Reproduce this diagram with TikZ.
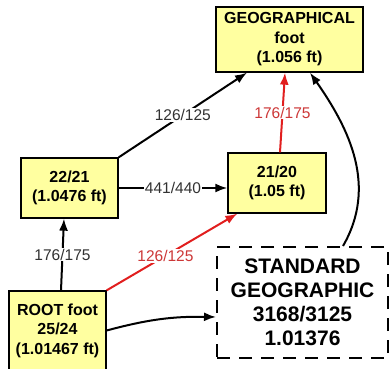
\documentclass[tikz,border=0pt]{standalone}
\usepackage{fontspec}
\setmainfont{Liberation Sans}
\usetikzlibrary{arrows.meta, calc}
\definecolor{boxyellow}{RGB}{255,255,160}
\definecolor{arrowred}{RGB}{225,30,30}
\definecolor{labelred}{RGB}{205,55,55}
\definecolor{labelgray}{RGB}{50,50,50}

\begin{document}
\begin{tikzpicture}[x=1pt, y=1pt,
    unitbox/.style={draw, line width=1.3pt, fill=boxyellow, align=center, inner sep=0pt,
                    font=\fontsize{16}{19.5}\selectfont\bfseries},
    ratio/.style={line width=2pt, -{Latex[length=12pt,width=9pt]}},
    ratiolabel/.style={fill=white, inner sep=1pt, text=labelgray, font=\fontsize{15.5}{18}\selectfont}]

        \useasboundingbox (0,0) rectangle (390,368);

        % --- boxes ---
        \node[unitbox, minimum width=147pt, minimum height=65pt] (geo) at (289.5,328.5) {GEOGRAPHICAL\\foot\\(1.056 ft)};
        \node[unitbox, minimum width=97pt, minimum height=60pt] (b2221) at (69.5,180) {22/21\\(1.0476 ft)};
        \node[unitbox, minimum width=98pt, minimum height=60pt] (b2120) at (277,185) {21/20\\(1.05 ft)};
        \node[unitbox, minimum width=97pt, minimum height=79pt] (root) at (57.5,37.5) {ROOT foot\\25/24\\(1.01467 ft)};
        \node[draw, dash pattern=on 13pt off 9pt, line width=2pt, fill=white, align=center, inner sep=0pt,
              minimum width=171pt, minimum height=111pt, font=\fontsize{21}{24}\selectfont\bfseries]
              (std) at (302.5,65.5) {STANDARD\\GEOGRAPHIC\\3168/3125\\1.01376};

        % --- ratios ---
        \draw[ratio] (b2221.north east) -- node[ratiolabel]{126/125} ([xshift=-42.5pt]geo.south);
        \draw[ratio] (b2221.east) -- node[ratiolabel]{441/440} (b2120.west |- b2221.east);
        \draw[ratio, arrowred] ([xshift=3pt]b2120.north) -- node[ratiolabel, text=labelred]{176/175} ([xshift=-4.5pt]geo.south);
        \draw[ratio] ([xshift=3.5pt]root.north) -- node[ratiolabel]{176/175} ([xshift=-5.5pt]b2221.south);
        \draw[ratio, arrowred] (root.north east) -- node[ratiolabel, text=labelred, pos=0.45]{126/125} ([xshift=10pt]b2120.south west);

        % --- standard ---
        \draw[ratio] (root.east) to[bend left=8] ([yshift=-14.5pt]std.west);
        \draw[ratio] ([xshift=40.5pt]std.north) to[out=60, in=-55] ([xshift=20.5pt]geo.south);
    \end{tikzpicture}
\end{document}
